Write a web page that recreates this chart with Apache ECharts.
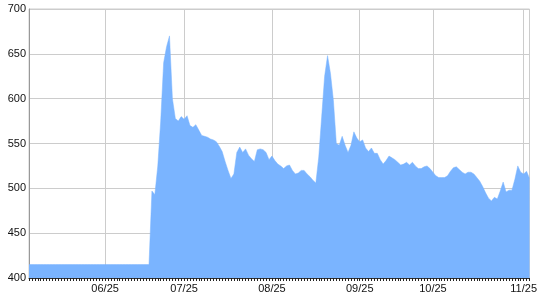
<!DOCTYPE html>
<html>
<head>
<meta charset="utf-8">
<script src="https://cdn.jsdelivr.net/npm/echarts@6/dist/echarts.min.js"></script>
<style>
html,body{margin:0;padding:0;background:#fff;}
#chart{width:540px;height:300px;}
</style>
</head>
<body>
<div id="chart"></div>
<script>
// Series values (one per day/category)
const values = [
  415,415,415,415,415,415,415,415,415,415,
  415,415,415,415,415,415,415,415,415,415,
  415,415,415,415,415,415,415,415,415,415,
  415,415,415,415,415,415,415,415,415,415,
  415,415,497,493,525,575,640,658,670,600,
  578,575,580,577,581,570,568,571,565,559,
  558,557,555,554,552,547,541,530,520,511,
  516,540,546,540,544,537,533,530,543,544,
  543,540,532,536,531,527,525,522,525,526,
  520,516,517,520,520,516,513,509,506,535,
  580,625,648,628,598,550,548,558,548,540,
  548,563,556,552,554,545,541,545,539,539,
  532,527,531,536,534,532,529,526,527,529,
  526,529,525,522,522,524,525,522,518,514,
  512,512,512,514,519,523,524,521,518,516,
  518,518,516,512,508,502,495,489,486,490,
  488,497,507,496,498,498,510,525,518,516,
  519,511
];
// Tick labels and the category index where each sits
const tickLabels = ['06/25','07/25','08/25','09/25','10/25','11/25'];
const tickIndex  = [26, 53, 83, 113, 138, 169];
// Y axis
const yMin = 400, yMax = 700, yStep = 50;

const categories = values.map((v, i) => {
  const k = tickIndex.indexOf(i);
  return k >= 0 ? tickLabels[k] : '';
});
const isLabeled = (idx) => tickIndex.indexOf(idx) >= 0;

const chart = echarts.init(document.getElementById('chart'), null, {renderer: 'canvas'});
const font = 'Liberation Sans, Arial, sans-serif';
chart.setOption({
  animation: false,
  grid: {left: 29, right: 10, top: 9, bottom: 22, show: true, borderColor: '#cccccc', borderWidth: 1},
  xAxis: {
    type: 'category',
    data: categories,
    boundaryGap: false,
    axisLine: {show: true, lineStyle: {color: '#333333', width: 1}},
    axisTick: {show: true, interval: 0, length: 3, lineStyle: {color: '#222222'}},
    axisLabel: {interval: (i) => isLabeled(i), color: '#111111', fontFamily: font, fontSize: 11, margin: 5},
    splitLine: {show: true, interval: (i) => isLabeled(i), lineStyle: {color: '#cccccc', width: 1}}
  },
  yAxis: {
    type: 'value',
    min: yMin, max: yMax, interval: yStep,
    axisLine: {show: true, lineStyle: {color: '#999999', width: 1}},
    axisTick: {show: false},
    axisLabel: {color: '#111111', fontFamily: font, fontSize: 11, margin: 3},
    splitLine: {show: true, lineStyle: {color: '#cccccc', width: 1}}
  },
  series: [{
    type: 'line',
    data: values,
    showSymbol: false,
    lineStyle: {width: 0.5, color: '#7ab4ff'},
    areaStyle: {color: '#7ab4ff', opacity: 1}
  }]
});
</script>
</body>
</html>
